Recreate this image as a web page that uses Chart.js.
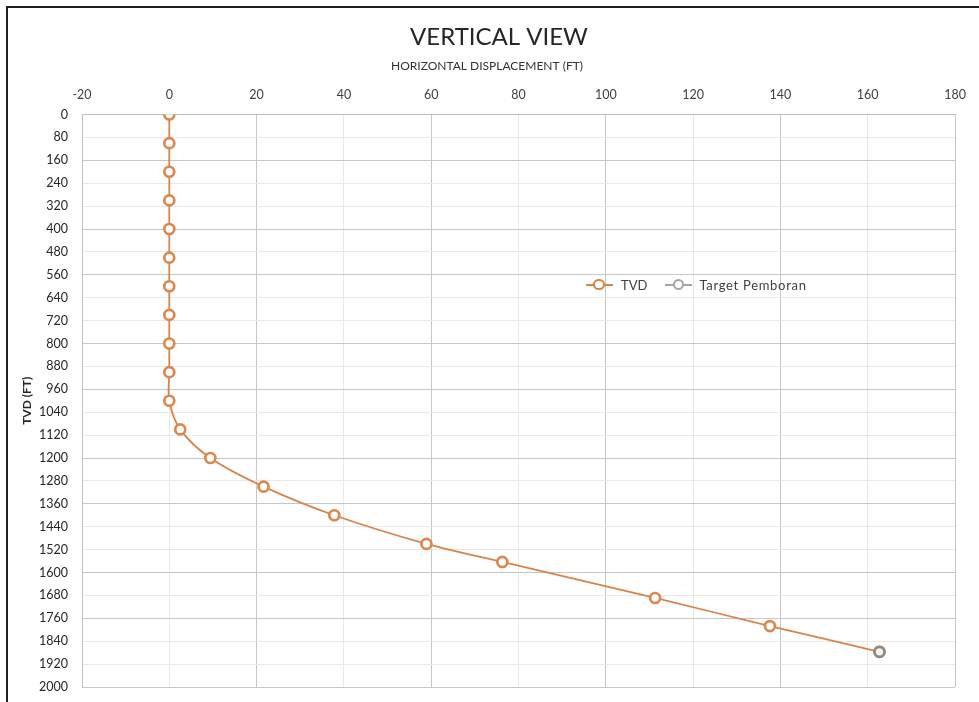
<!DOCTYPE html>
<html>
  <head>
    <meta charset="utf-8">
    <title>Vertical View</title>
    <script src="https://cdn.jsdelivr.net/npm/chart.js@4.4.0/dist/chart.umd.min.js"></script>
    <style>
      html, body { margin: 0; padding: 0; background: #fff; overflow: hidden; }
      #wrap { position: relative; width: 979px; height: 702px; overflow: hidden; }
      #frame { position: absolute; left: 6px; top: 6px; width: 990px; height: 710px; border-top: 2px solid #1e1e1e; border-left: 2px solid #1e1e1e; pointer-events: none; }
      .legend { position: absolute; top: 276px; left: 586px; font: 13px Lato, "Open Sans", sans-serif; color: #404040; display: flex; align-items: center; white-space: nowrap; }
      .key { position: relative; display: inline-block; width: 27px; height: 18px; }
      .key i { position: absolute; left: 0; right: 0; top: 8px; height: 2px; }
      .key b { position: absolute; left: 7.25px; top: 2.75px; width: 7.5px; height: 7.5px; border: 2.5px solid; border-radius: 50%; background: #fff; box-sizing: content-box; }
    </style>
  </head>
  <body>
    <div id="wrap">
      <canvas id="chart1" width="979" height="702"></canvas>
      <div id="frame"></div>
      <div class="legend">
        <span class="key"><i style="background:#da8449"></i><b style="border-color:#da8449"></b></span>
        <span style="margin-left:8px">TVD</span>
        <span class="key" style="margin-left:18px"><i style="background:#a5a5a5"></i><b style="border-color:#a5a5a5"></b></span>
        <span style="margin-left:7px; letter-spacing:0.7px">Target Pemboran</span>
      </div>
    </div>
    <script>
      // values
      var tvdDisp   = [0, 0, 0, 0, 0, 0, 0, 0, 0, 0, 0, 2.5, 9.4, 21.6, 37.8, 58.9, 76.3, 111.3, 137.6, 162.7];
      var tvdDepth  = [0, 100, 200, 300, 400, 500, 600, 700, 800, 900, 1000, 1100, 1200, 1300, 1400, 1500, 1563, 1689, 1787, 1877];
      var targetDisp  = [162.7];
      var targetDepth = [1877];

      var dispMin = -20, dispMax = 180, dispStep = 20;
      var depthMin = 0, depthMax = 2000, depthStep = 80;

      var fam = 'Lato, "Open Sans", sans-serif';
      var gridDark = '#c6c6c6', gridLight = '#e8e8e8';

      function pts(xs, ys){
        var out = [];
        for(var i=0; i < xs.length; i++) out.push({x: xs[i], y: ys[i]});
        return out;
      }

      var titles = {
        id: 'titles',
        afterDraw: function(chart){
          var c = chart.ctx;
          c.save();
          c.fillStyle = '#262626';
          c.textAlign = 'center';
          c.textBaseline = 'middle';
          c.font = '24px ' + fam;
          c.fillText('VERTICAL VIEW', 499, 37);
          c.font = '12px ' + fam;
          c.fillStyle = '#333';
          c.fillText('HORIZONTAL DISPLACEMENT (FT)', 487, 66);
          c.restore();
        }
      };

      var ctx = document.getElementById('chart1').getContext('2d');
      new Chart(ctx, {
        type: 'scatter',
        data: {
          datasets: [
            {
              label: 'TVD',
              data: pts(tvdDisp, tvdDepth),
              showLine: true,
              tension: 0.35,
              borderColor: '#d8834a',
              borderWidth: 1.8,
              pointRadius: 5,
              pointBorderWidth: 2.7,
              pointBorderColor: '#dc874e',
              pointBackgroundColor: '#fff',
              order: 1
            },
            {
              label: 'Target Pemboran',
              data: pts(targetDisp, targetDepth),
              showLine: true,
              borderColor: '#a5a5a5',
              pointRadius: 5,
              pointBorderWidth: 2.7,
              pointBorderColor: '#918a86',
              pointBackgroundColor: '#f2f2f2',
              order: 0
            }
          ]
        },
        options: {
          responsive: false,
          animation: false,
          layout: {padding: {left: 0, right: 24, top: 0, bottom: 15}},
          plugins: {
            legend: {display: false},
            tooltip: {enabled: false},
            title: {display: false}
          },
          scales: {
            x: {
              type: 'linear',
              position: 'top',
              min: dispMin,
              max: dispMax,
              afterFit: function(s){ s.height = 114.5; },
              border: {color: '#bfbfbf'},
              grid: {
                drawTicks: false,
                color: function(c){ return c.index % 2 === 0 ? gridDark : gridLight; }
              },
              ticks: {
                stepSize: dispStep,
                padding: 12,
                color: '#404040',
                font: {family: fam, size: 12.5},
                callback: function(v){ return String(v); }
              }
            },
            y: {
              type: 'linear',
              reverse: true,
              min: depthMin,
              max: depthMax,
              afterFit: function(s){ s.width = 82; s.paddingTop = 0; s.paddingBottom = 0; },
              border: {color: '#bfbfbf'},
              grid: {
                drawTicks: false,
                color: function(c){
                  var i = c.index;
                  return Math.floor(i / 2.5) > Math.floor((i - 1) / 2.5) ? gridDark : gridLight;
                }
              },
              ticks: {
                stepSize: depthStep,
                padding: 14,
                color: '#262626',
                font: {family: fam, size: 12.5},
                callback: function(v){ return String(v); }
              },
              title: {
                display: true,
                text: 'TVD (FT)',
                color: '#262626',
                font: {family: fam, size: 12, weight: 'bold'},
                padding: {top: 20, bottom: 0}
              }
            }
          }
        },
        plugins: [titles]
      });
    </script>
  </body>
</html>
